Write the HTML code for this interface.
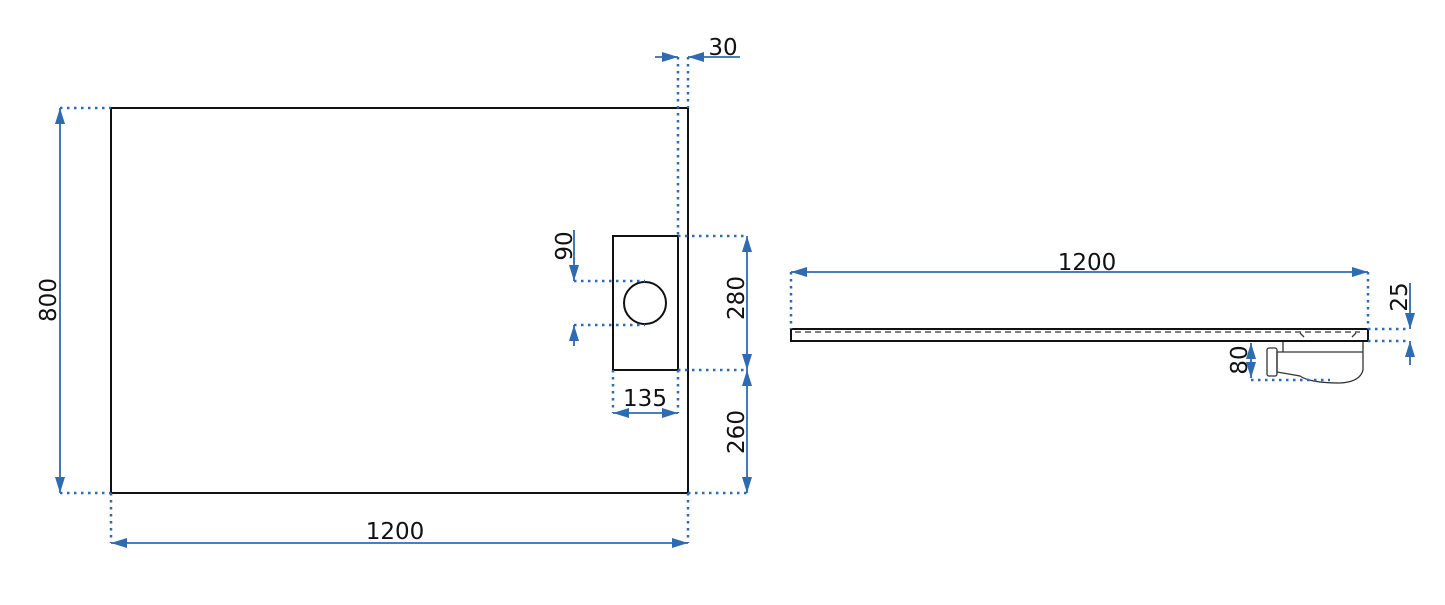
<!DOCTYPE html>
<html><head><style>body{margin:0;background:#fff}svg{display:block}</style></head><body>
<svg width="1445" height="605" viewBox="0 0 1445 605" xmlns="http://www.w3.org/2000/svg">
<defs>
<marker id="b" viewBox="0 0 16 10" refX="16" refY="5" markerWidth="16" markerHeight="10" markerUnits="userSpaceOnUse" orient="auto-start-reverse"><path d="M0,0 L16,5 L0,10 z" fill="#2e6bb0"/></marker>
</defs>
<g fill="none" stroke="#111" stroke-width="2">
<rect x="111" y="108" width="577" height="385"/>
<rect x="613" y="236" width="65" height="134" stroke-width="2"/>
<circle cx="645" cy="303" r="21" stroke-width="2"/>
<rect x="791" y="329" width="577" height="12" stroke-width="2"/>
</g>
<g fill="none" stroke="#333" stroke-width="1.3">
<line x1="795" y1="332" x2="1360" y2="332" stroke-dasharray="6,4"/>
<path d="M1283 342 V352 M1363 342 V352 M1277 352 H1363 V370 Q1360 382 1340 383 Q1310 383 1300 376 L1277 372 Z"/>
<rect x="1267" y="348" width="10" height="28" rx="2"/>
<path d="M1300 333 l4 4 M1356 333 l-4 4"/>
</g>
<g stroke="#2e6bb0" stroke-width="2.5" stroke-dasharray="2.5,4.5" fill="none">
<line x1="60" y1="108" x2="111" y2="108"/><line x1="60" y1="493" x2="111" y2="493"/>
<line x1="111" y1="493" x2="111" y2="543"/><line x1="688" y1="493" x2="688" y2="543"/>
<line x1="678" y1="57" x2="678" y2="236"/><line x1="688" y1="57" x2="688" y2="108"/>
<line x1="678" y1="236" x2="747" y2="236"/><line x1="678" y1="370" x2="747" y2="370"/><line x1="688" y1="493" x2="747" y2="493"/>
<line x1="574" y1="281" x2="645" y2="281"/><line x1="574" y1="325" x2="645" y2="325"/>
<line x1="613" y1="370" x2="613" y2="413"/><line x1="678" y1="370" x2="678" y2="413"/>
<line x1="791" y1="272" x2="791" y2="329"/><line x1="1368" y1="272" x2="1368" y2="329"/>
<line x1="1368" y1="329" x2="1410" y2="329"/><line x1="1368" y1="341" x2="1410" y2="341"/>
<line x1="1251" y1="380" x2="1330" y2="380"/>
</g>
<g stroke="#2e6bb0" stroke-width="1.8" fill="none">
<line x1="60" y1="108" x2="60" y2="493" marker-start="url(#b)" marker-end="url(#b)"/>
<line x1="111" y1="543" x2="688" y2="543" marker-start="url(#b)" marker-end="url(#b)"/>
<line x1="655" y1="57" x2="678" y2="57" marker-end="url(#b)"/>
<line x1="740" y1="57" x2="688" y2="57" marker-end="url(#b)"/>
<line x1="747" y1="236" x2="747" y2="370" marker-start="url(#b)" marker-end="url(#b)"/>
<line x1="747" y1="370" x2="747" y2="493" marker-start="url(#b)" marker-end="url(#b)"/>
<line x1="574" y1="230" x2="574" y2="281" marker-end="url(#b)"/>
<line x1="574" y1="346" x2="574" y2="325" marker-end="url(#b)"/>
<line x1="613" y1="413" x2="678" y2="413" marker-start="url(#b)" marker-end="url(#b)"/>
<line x1="791" y1="272" x2="1368" y2="272" marker-start="url(#b)" marker-end="url(#b)"/>
<line x1="1410" y1="283" x2="1410" y2="329" marker-end="url(#b)"/>
<line x1="1410" y1="365" x2="1410" y2="341" marker-end="url(#b)"/>
<line x1="1251" y1="343" x2="1251" y2="378" marker-start="url(#b)" marker-end="url(#b)"/>
</g>
<g font-family="'DejaVu Sans','Liberation Sans',sans-serif" font-size="23" fill="#111" text-anchor="middle">
<text x="723" y="55">30</text>
<text x="395" y="539">1200</text>
<text x="645" y="406">135</text>
<text x="1087" y="270">1200</text>
<text transform="translate(56,300) rotate(-90)">800</text>
<text transform="translate(744,298) rotate(-90)">280</text>
<text transform="translate(744,432) rotate(-90)">260</text>
<text transform="translate(572,246) rotate(-90)">90</text>
<text transform="translate(1407,297) rotate(-90)">25</text>
<text transform="translate(1247,360) rotate(-90)">80</text>
</g>
</svg>
</body></html>
